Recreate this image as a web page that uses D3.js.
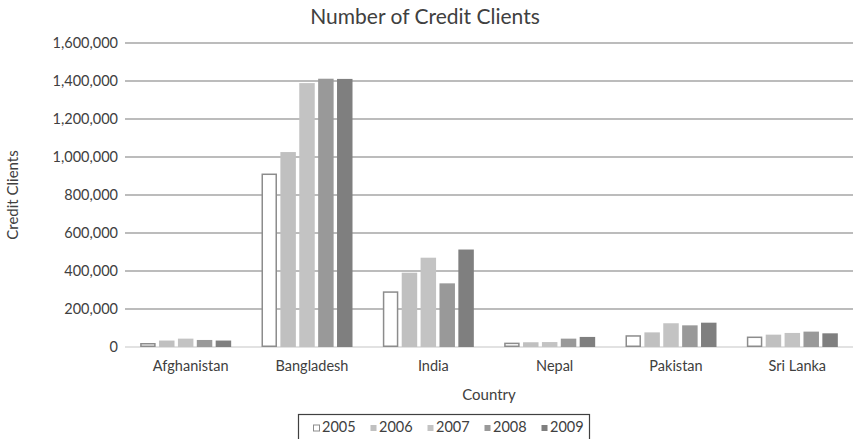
<!DOCTYPE html>
<html><head><meta charset="utf-8">
<script src="https://cdn.jsdelivr.net/npm/d3@7"></script>
<style>
html,body{margin:0;padding:0;background:#fff;}
text{font-family:Lato,"Open Sans",sans-serif;fill:#404040;}
</style></head>
<body><svg id="chart" width="853" height="439"></svg>
<script>
const categories = ["Afghanistan","Bangladesh","India","Nepal","Pakistan","Sri Lanka"];
const years = ["2005","2006","2007","2008","2009"];
const v2005 = [21000, 913000, 293000, 23000, 62000, 55000];
const v2006 = [34000, 1026000, 391000, 25000, 77000, 65000];
const v2007 = [44000, 1389000, 470000, 26000, 125000, 74000];
const v2008 = [37000, 1412000, 335000, 44000, 114000, 81000];
const v2009 = [34000, 1411000, 513000, 53000, 128000, 72000];
const yTicks = [0,200000,400000,600000,800000,1000000,1200000,1400000,1600000];
const colors = ["#ffffff","#c0c0c0","#c3c3c3","#999999","#7f7f7f"];

const series = [v2005,v2006,v2007,v2008,v2009];
const svg = d3.select("#chart");
const L=125,R=853,T=43,B=347;

const x0 = d3.scaleBand().domain(categories).range([L,R]).paddingInner(0.25).paddingOuter(0.125);
const x1 = d3.scaleBand().domain(years).range([0,x0.bandwidth()]).paddingInner(0.18);
const y = d3.scaleLinear().domain([0,1600000]).range([B,T]);

// gridlines
svg.append("g").selectAll("line").data(yTicks).join("line")
  .attr("x1",L).attr("x2",R)
  .attr("y1",d=>y(d)).attr("y2",d=>y(d))
  .attr("stroke",d=>d===0?"#d9d9d9":"#a6a6a6").attr("stroke-width",1.3);

// y axis labels
const ya = svg.append("g").attr("transform",`translate(${L},0)`)
  .call(d3.axisLeft(y).tickValues(yTicks).tickFormat(d3.format(",")).tickSize(0).tickPadding(7));
ya.select(".domain").remove();
ya.selectAll("text").style("font-family","Lato, sans-serif").style("font-size","14.5px").attr("fill","#404040");

// bars
const groups = svg.append("g").selectAll("g").data(categories).join("g")
  .attr("transform",d=>`translate(${x0(d)},0)`);
groups.selectAll("rect").data((c,i)=>years.map((yr,j)=>({yr,j,v:series[j][i]}))).join("rect")
  .attr("x",d=>x1(d.yr)+(d.j===0?0.75:0))
  .attr("width",d=>x1.bandwidth()-(d.j===0?1.5:0))
  .attr("y",d=>y(d.v)+(d.j===0?0.75:0))
  .attr("height",d=>Math.max(0,B-y(d.v)-(d.j===0?1.5:0)))
  .attr("fill",d=>colors[d.j])
  .attr("stroke",d=>d.j===0?"#8c8c8c":"none")
  .attr("stroke-width",1.5);

// category labels
svg.append("g").selectAll("text").data(categories).join("text")
  .attr("x",d=>x0(d)+x0.bandwidth()/2+5).attr("y",371)
  .attr("text-anchor","middle").style("font-size","14.5px").text(d=>d);

// title
svg.append("text").attr("x",425).attr("y",24).attr("text-anchor","middle")
  .style("font-size","21px").attr("fill","#404040").text("Number of Credit Clients");
// axis titles
svg.append("text").attr("x",(L+R)/2).attr("y",400).attr("text-anchor","middle")
  .style("font-size","15px").text("Country");
svg.append("text").attr("transform",`translate(18,${(T+B)/2}) rotate(-90)`).attr("text-anchor","middle")
  .style("font-size","15px").text("Credit Clients");

// legend
const lg = svg.append("g");
lg.append("rect").attr("x",298.5).attr("y",414.5).attr("width",291).attr("height",30)
  .attr("fill","none").attr("stroke","#404040").attr("stroke-width",1.2);
const li = lg.selectAll("g").data(years).join("g")
  .attr("transform",(d,i)=>`translate(${313+i*57},0)`);
li.append("rect").attr("x",0.5).attr("y",425).attr("width",6).attr("height",6)
  .attr("fill",(d,i)=>colors[i]).attr("stroke",(d,i)=>i===0?"#8c8c8c":"none").attr("stroke-width",1);
li.append("text").attr("x",9).attr("y",432).style("font-size","14.5px").text(d=>d);
</script></body></html>
